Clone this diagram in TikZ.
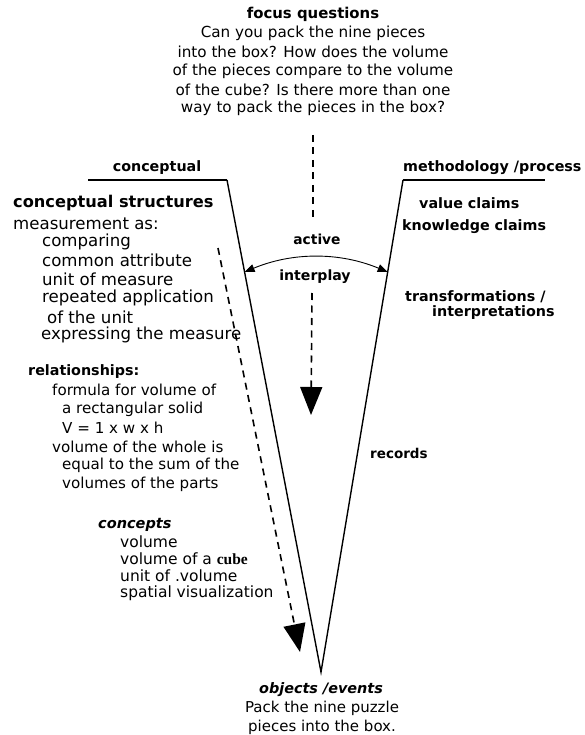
\documentclass[tikz,border=0pt]{standalone}
\usepackage{fontspec}
\setmainfont{DejaVu Sans}
\newfontfamily\cubefont{Liberation Serif}
\usetikzlibrary{arrows.meta,calc}
\begin{document}
\begin{tikzpicture}[x=1pt,y=-1pt,
  fs/.style={font=\fontsize{#1}{19}\selectfont},
  txt/.style={inner sep=0pt, fs=#1},
  txt/.default=15.5,
  head/.style={inner sep=0pt, font=\fontsize{#1}{19}\selectfont\bfseries},
  head/.default=14.3,
  headit/.style={inner sep=0pt, font=\fontsize{#1}{19}\selectfont\bfseries\itshape},
  headit/.default=14.5,
  vee/.style={line width=1.4pt, line join=miter},
  bar/.style={line width=2.6pt},
  flow/.style={line width=1.6pt, dash pattern=on 7pt off 5.5pt},
  bigtip/.style={-{Triangle[length=28pt,width=22pt]}},
  link/.style={line width=0.9pt, {Triangle[length=10pt,width=8pt]}-{Triangle[length=10pt,width=8pt]}}
]
\useasboundingbox (0,0) rectangle (584,735);

% ---- focus questions ----
\node[head=14.9] (fqh) at (313,14) {focus questions};
\foreach \n/\y/\t in {q1/33/Can you pack the nine pieces,
                      q2/52/into the box? How does the volume,
                      q3/71/of the pieces compare to the volume,
                      q4/90/of the cube? Is there more than one,
                      q5/108/way to pack the pieces in the box?}
  \node[txt=15.2] (\n) at (313,\y) {\t};

% ---- the V ----
\coordinate (lbarL) at (88,180);
\coordinate (lbarR) at (227,180);
\coordinate (vtx)   at (321,672);
\coordinate (rbarL) at (403,180);
\coordinate (rbarR) at (545,180);
\draw[bar] (lbarL) -- (lbarR);
\draw[bar] (rbarL) -- (rbarR);
\draw[vee] (lbarR) -- (vtx) -- (rbarL);

\node[head] (conc) at (157,168) {conceptual};
\node[head,anchor=west] (meth) at (403,168) {methodology /process};

% ---- active interplay ----
\node[head=13.8] (act) at (317,239) {active};
\node[head=14.1] (inter) at (315,277) {interplay};
\coordinate (aL) at ($(lbarR)!0.187!(vtx)$);
\coordinate (aR) at ($(rbarL)!0.187!(vtx)$);
\draw[link] (aL) .. controls ($(aL)+(48,-20)$) and ($(aR)+(-48,-20)$) .. (aR);

% ---- dashed flows ----
\coordinate (fq0) at (313,135);
\coordinate (fq1) at (313,220);
\draw[flow] (fq0) -- (fq1);
\coordinate (c0) at (312,293);
\coordinate (c1) at (311,415);
\draw[flow,bigtip] (c0) -- (c1);
\coordinate (l0) at (218,248);
\coordinate (l1) at (300,652);
\draw[flow,bigtip] (l0) -- (l1);

% ---- conceptual side ----
\node[head=16.2,anchor=west] (cs) at (13,203) {conceptual structures};
\foreach \n/\x/\y/\t in {m1/13/224/measurement as:,
                         m2/42/242/comparing,
                         m3/42/260/common attribute,
                         m4/42/279/unit of measure,
                         m5/42/298/repeated application,
                         m6/47/317/of the unit,
                         m7/41/335/expressing the measure}
  \node[txt=16.6,anchor=west] (\n) at (\x,\y) {\t};

\node[head,anchor=west] (rel) at (28,372) {relationships:};
\foreach \n/\x/\y/\t in {r1/52/390/formula for volume of,
                         r2/62/409/a rectangular solid,
                         r3/62/428/V = 1 x w x h,
                         r4/52/447/volume of the whole is,
                         r5/62/465/equal to the sum of the,
                         r6/62/484/volumes of the parts}
  \node[txt=15.1,anchor=west] (\n) at (\x,\y) {\t};

\node[headit,anchor=west] (cpt) at (98,525) {concepts};
\foreach \n/\y/\t in {k1/542/volume,
                      k2/559/volume of a {\cubefont\bfseries cube},
                      k3/576/unit of .volume,
                      k4/593/spatial visualization}
  \node[txt,anchor=west] (\n) at (120,\y) {\t};

% ---- methodology side ----
\node[head,anchor=west] (vc) at (419,203) {value claims};
\node[head,anchor=west] (kc) at (402,227) {knowledge claims};
\node[head,anchor=west] (tr) at (405,297) {transformations /};
\node[head,anchor=west] (ip) at (432,313) {interpretations};
\node[head=13.5,anchor=west] (rec) at (370,453) {records};

% ---- objects / events ----
\node[headit=14.4] (obj) at (321,690) {objects /events};
\node[txt=15] (o1) at (322,708) {Pack the nine puzzle};
\node[txt=15] (o2) at (322,727) {pieces into the box.};
\end{tikzpicture}
\end{document}
